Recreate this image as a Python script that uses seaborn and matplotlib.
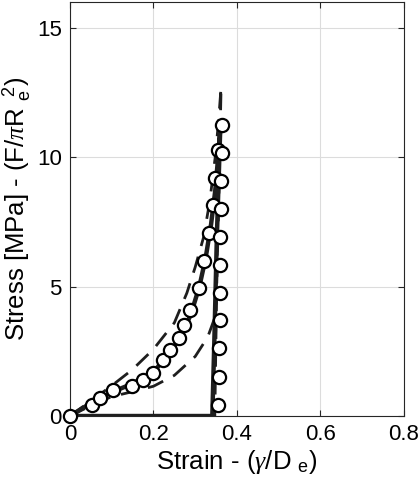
import numpy as np
import pandas as pd
import matplotlib
matplotlib.use("Agg")
import matplotlib.pyplot as plt
import seaborn as sns

# measured data (circles): loading then unloading
exp_strain = [0.0, 0.052, 0.072, 0.104, 0.148, 0.174, 0.198, 0.222, 0.240, 0.260,
              0.274, 0.288, 0.308, 0.322, 0.332, 0.342, 0.348, 0.354, 0.364,
              0.364, 0.362, 0.362, 0.360, 0.360, 0.360, 0.360, 0.358, 0.356, 0.355]
exp_stress = [0.0, 0.43, 0.71, 1.0, 1.17, 1.39, 1.65, 2.16, 2.55, 3.0,
              3.52, 4.1, 4.94, 6.0, 7.06, 8.13, 9.19, 10.28, 11.24,
              10.15, 9.08, 8.0, 6.93, 5.84, 4.77, 3.69, 2.62, 1.52, 0.43]

# model fit (solid): loading, unloading, return along zero
fit_strain = [0.0, 0.05, 0.1, 0.15, 0.2, 0.24, 0.27, 0.29, 0.31, 0.325, 0.338,
              0.348, 0.355, 0.36, 0.352, 0.346, 0.341, 0.0]
fit_stress = [0.0, 0.5, 0.92, 1.25, 1.7, 2.45, 3.2, 3.95, 5.0, 6.1, 7.4,
              8.7, 10.0, 11.1, 7.0, 3.0, 0.0, 0.0]

# upper bound (dashed)
up_strain = [0.0, 0.064, 0.1, 0.15, 0.2, 0.25, 0.28, 0.3, 0.32, 0.335,
             0.348, 0.356, 0.362, 0.356, 0.35, 0.345]
up_stress = [0.0, 0.75, 1.17, 1.8, 2.58, 3.6, 4.75, 5.75, 6.9, 8.3,
             10.0, 11.4, 12.7, 8.0, 4.0, 0.0]

# lower bound (dashed)
lo_strain = [0.0, 0.05, 0.1, 0.15, 0.2, 0.25, 0.3, 0.33, 0.347, 0.352,
             0.356, 0.353, 0.35, 0.347]
lo_stress = [0.0, 0.4, 0.75, 0.94, 1.15, 1.57, 2.3, 3.05, 3.8, 6.5,
             9.8, 6.5, 3.3, 0.0]

x_ticks = [0, 0.2, 0.4, 0.6, 0.8]
x_tick_labels = ["0", "0.2", "0.4", "0.6", "0.8"]
y_ticks = [0, 5, 10, 15]

sns.set_style("whitegrid")
plt.rcParams["font.family"] = ["Liberation Sans", "DejaVu Sans"]
plt.rcParams["mathtext.fontset"] = "custom"
plt.rcParams["mathtext.rm"] = "Liberation Sans"
plt.rcParams["mathtext.it"] = "Liberation Serif:italic"

fig = plt.figure(figsize=(4.19, 4.88), dpi=100)
ax = fig.add_axes([0.167, 0.1475, 0.797, 0.849])

line_col = "#1e1e1e"
dash = (6, 4)

up_df = pd.DataFrame({"strain": up_strain, "stress": up_stress})
lo_df = pd.DataFrame({"strain": lo_strain, "stress": lo_stress})
fit_df = pd.DataFrame({"strain": fit_strain, "stress": fit_stress})

for df in (up_df, lo_df):
    sns.lineplot(data=df, x="strain", y="stress", sort=False, estimator=None,
                 color=line_col, linewidth=2.0, ax=ax)
    ax.lines[-1].set_dashes(dash)

sns.lineplot(data=fit_df, x="strain", y="stress", sort=False, estimator=None,
             color=line_col, linewidth=3.2, ax=ax)

ax.plot(exp_strain, exp_stress, linestyle="none", marker="o", markersize=9.5,
        markerfacecolor="white", markeredgecolor="black", markeredgewidth=1.6,
        zorder=5, clip_on=False)

ax.set_xlim(0, 0.8)
ax.set_ylim(0, 16)
ax.set_xticks(x_ticks)
ax.set_xticklabels(x_tick_labels)
ax.set_yticks(y_ticks)
ax.grid(True, color="#dcdcdc", linewidth=0.8)
for s in ax.spines.values():
    s.set_color("#262626")
    s.set_linewidth(0.8)
    s.set_visible(True)
ax.tick_params(direction="in", length=4, width=0.8, color="#262626",
               labelsize=16, labelcolor="black", pad=6)
ax.tick_params(top=True, right=True, bottom=True, left=True)

ax.set_xlabel(r"Strain - ($\gamma$/D $_{\rm e}$)", fontsize=18.5, labelpad=2,
              color="black")
ax.set_ylabel(r"Stress [MPa] - (F/$\pi$R $_{\rm e}^{\ 2}$)", fontsize=18.5,
              labelpad=3, color="black")

fig.savefig("out.png", dpi=100)
